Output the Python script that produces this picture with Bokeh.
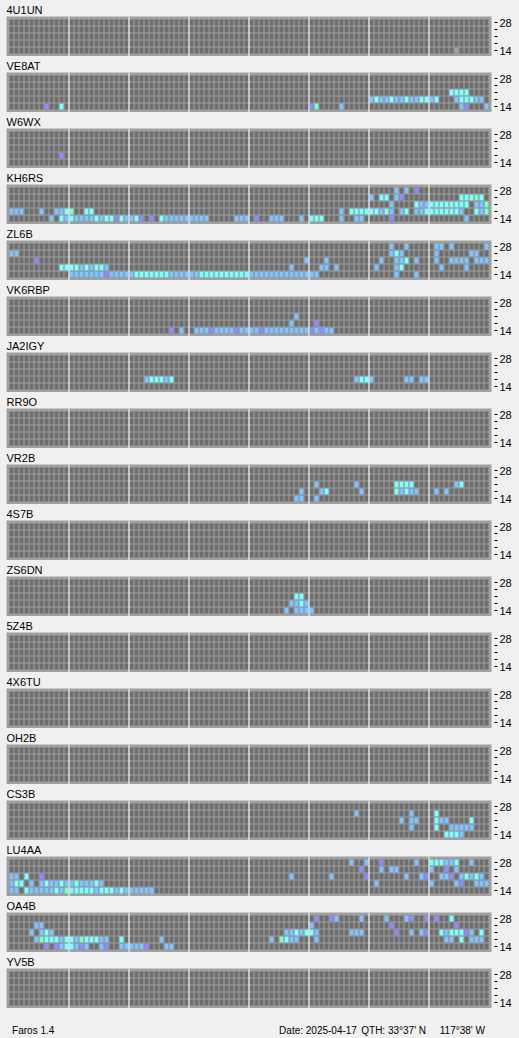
from bokeh.plotting import figure
from bokeh.models import Range1d, LinearAxis, FixedTicker, ColumnDataSource, Label
from bokeh.layouts import column
from bokeh.embed import file_html
from bokeh.resources import INLINE

# Beacon stations, top to bottom
STATIONS = ["4U1UN", "VE8AT", "W6WX", "KH6RS", "ZL6B", "VK6RBP", "JA2IGY", "RR9O",
            "VR2B", "4S7B", "ZS6DN", "5Z4B", "4X6TU", "OH2B", "CS3B", "LU4AA", "OA4B", "YV5B"]

# Bands in MHz, bottom row first
BANDS = [14, 18, 21, 24, 28]
BAND_TICK_LABELS = {14: "14", 18: "", 21: "", 24: "", 28: "28"}

SLOTS_PER_DAY = 96          # 15-minute slots
SLOTS_PER_BLOCK = 12        # 3-hour blocks

# Reception per band: "start_slot:levels" runs, one character per slot
# levels: g = heard (no SNR), p = weak, b = fair, c = good, m = strong, . = none
SIG_4U1UN = {14: "89:g"}
SIG_VE8AT = {21: "88:cccc",
             18: "72:bcbbcbbcbbccbc 89:bcccbb",
             14: "7:p 10:c 60:pm 66:b 90:bp 95:b"}
SIG_W6WX = {18: "10:p"}
SIG_KH6RS = {28: "77:b 79:b 81:p",
             24: "72:b 74:cc 77:bp 90:cccmc",
             21: "76:b 81:cbbcccccccc 93:bbm",
             18: "0:bbb 6:b 9:bbcm 15:cc 66:b 68:ccccccbcb 78:bc 81:bbcccccccb 93:cbm",
             14: "8:b 10:cbcbbbbcbccpcbbcp 28:p 30:cbbbbbbbbb 45:bbb 49:p 52:bbb 58:b 60:ccc 66:b 69:bb 76:p 91:b"}
SIG_ZL6B = {28: "76:b 79:b 85:bb 88:b 95:b",
            24: "0:bb 76:bcb 85:b 92:bb",
            21: "5:p 59:b 63:b 74:b 77:bbc 81:b 85:b 88:bbbb 93:bbb",
            18: "10:ccccbcbccb 56:b 62:bb 65:b 73:b 77:bc 86:b 91:b",
            14: "12:bbbbbbbpbbbbbcccccccbbbbbbccccccccccbbbbbbbbbbbbbb 77:b 81:b"}
SIG_VK6RBP = {21: "57:b",
              18: "56:b 61:p",
              14: "32:p 34:b 37:bbbpbbbbpbbbbpbbbbbbbbbpbbbb 62:p"}
SIG_JA2IGY = {18: "27:bcccbc 69:bccb 79:bb 82:bb"}
SIG_RR9O = {}
SIG_VR2B = {21: "61:b 69:b 77:cccc 89:bc",
            18: "58:b 62:bc 70:b 77:cbcbb 85:b 87:b",
            14: "57:bb 61:b"}
SIG_4S7B = {}
SIG_ZS6DN = {21: "57:cc",
             18: "56:bbcb",
             14: "55:b 57:bbbb"}
SIG_5Z4B = {}
SIG_4X6TU = {}
SIG_OH2B = {}
SIG_CS3B = {24: "69:b 80:b 85:c",
            21: "78:b 80:bb 85:cbb 92:c",
            18: "80:b 85:c 88:bbbb 92:b",
            14: "87:cccb"}
SIG_LU4AA = {28: "68:b 71:b 74:p 81:b 84:cccbbc 92:b",
             24: "70:p 74:b 76:bb 84:b 87:p 89:b",
             21: "0:bb 3:c 6:p 56:b 64:b 71:p 79:b 82:bp 86:bbp 90:bcbcb",
             18: "0:bcc 4:b 6:bcbbcbbcbbbcb 73:b 84:b 89:bp 93:bbb",
             14: "0:bb 3:cbbbbbcbmcccccbcccbcbbbbbb 28:b"}
SIG_OA4B = {28: "61:p 64:pb 70:b 75:b 79:bp 83:p 85:p 88:c",
            24: "5:bb 60:b 76:p 89:p",
            21: "4:b 6:bcb 55:bbcbccb 68:bbb 77:p 80:b 82:bp 86:cbcccpb 94:c",
            18: "5:bmcccbccbmcccbb 22:c 30:b 52:b 54:mcbb 61:b 87:bb 90:c 92:bbb",
            14: "7:p 9:pbccbpb 18:bp 22:bbbbbp 31:bb"}
SIG_YV5B = {}

SIGNALS = [SIG_4U1UN, SIG_VE8AT, SIG_W6WX, SIG_KH6RS, SIG_ZL6B, SIG_VK6RBP, SIG_JA2IGY,
           SIG_RR9O, SIG_VR2B, SIG_4S7B, SIG_ZS6DN, SIG_5Z4B, SIG_4X6TU, SIG_OH2B,
           SIG_CS3B, SIG_LU4AA, SIG_OA4B, SIG_YV5B]

LEVEL_COLORS = {"g": "#a0a0a0", "p": "#8c8cff", "b": "#80c4ff",
                "c": "#80ffff", "m": "#80ffc4"}

FOOTER_LEFT = "Faros 1.4"
FOOTER_DATE = "Date: 2025-04-17"
FOOTER_QTH = "QTH: 33\u00b037' N"
FOOTER_LON = "117\u00b038' W"

PAGE_BG = "#f0f0f0"
FRAME_GRAY = "#a0a0a0"
EMPTY_CELL = "#6e6e6e"
FONT = "Liberation Sans"

CELL_W = 0.8            # of one slot
CELL_H = 6 / 7          # of one band row
Y_LO, Y_HI = -6 / 7, 34 / 7
X_LO, X_HI = -0.6, SLOTS_PER_DAY + 0.4


def parse(sig):
    xs, ys, cols = [], [], []
    for band, text in sig.items():
        row = BANDS.index(band)
        for token in text.split():
            start, levels = token.split(":")
            for k, ch in enumerate(levels):
                if ch == ".":
                    continue
                xs.append(int(start) + k)
                ys.append(row)
                cols.append(LEVEL_COLORS[ch])
    return xs, ys, cols


def make_panel(name, sig):
    p = figure(width=519, height=56,
               x_range=Range1d(X_LO, X_HI), y_range=Range1d(Y_LO, Y_HI),
               output_backend="svg", toolbar_location=None,
               x_axis_location=None, y_axis_location=None,
               min_border_left=6, min_border_right=28,
               min_border_top=16, min_border_bottom=0)
    p.background_fill_color = FRAME_GRAY
    p.border_fill_color = PAGE_BG
    p.outline_line_color = None
    p.grid.grid_line_color = None

    p.title.text = name
    p.title.text_font = FONT
    p.title.text_font_size = "11px"
    p.title.text_font_style = "normal"
    p.title.text_color = "black"
    p.title.align = "left"
    p.title.offset = 0
    p.title.standoff = 1

    # empty slot grid
    gx = [s for s in range(SLOTS_PER_DAY) for _ in BANDS]
    gy = [r for _ in range(SLOTS_PER_DAY) for r in range(len(BANDS))]
    grid = ColumnDataSource(dict(left=gx, right=[x + CELL_W for x in gx],
                                 bottom=[y - CELL_H / 2 for y in gy],
                                 top=[y + CELL_H / 2 for y in gy]))
    p.quad(left="left", right="right", bottom="bottom", top="top", source=grid,
           fill_color=EMPTY_CELL, line_color=None)

    # received slots
    xs, ys, cols = parse(sig)
    if xs:
        src = ColumnDataSource(dict(left=xs, right=[x + CELL_W for x in xs],
                                    bottom=[y - CELL_H / 2 for y in ys],
                                    top=[y + CELL_H / 2 for y in ys], color=cols))
        p.quad(left="left", right="right", bottom="bottom", top="top", source=src,
               fill_color="color", line_color=None)

    # 3-hour separators
    seps = list(range(SLOTS_PER_BLOCK, SLOTS_PER_DAY, SLOTS_PER_BLOCK))
    p.quad(left=[s - (1 - CELL_W) for s in seps], right=seps,
           bottom=Y_LO, top=Y_HI, fill_color="white", line_color=None)

    # band axis
    ax = LinearAxis(ticker=FixedTicker(ticks=list(range(len(BANDS)))))
    ax.major_label_overrides = {i: BAND_TICK_LABELS[b] for i, b in enumerate(BANDS)}
    ax.axis_line_color = None
    ax.minor_tick_line_color = None
    ax.major_tick_in = -3
    ax.major_tick_out = 6
    ax.major_tick_line_color = "black"
    ax.major_label_standoff = 2
    ax.major_label_text_font = FONT
    ax.major_label_text_font_size = "11px"
    ax.major_label_text_color = "black"
    p.add_layout(ax, "right")
    return p


def make_footer():
    f = figure(width=519, height=30, x_range=Range1d(0, 519), y_range=Range1d(0, 30),
               output_backend="svg", toolbar_location=None,
               x_axis_location=None, y_axis_location=None,
               min_border_left=0, min_border_right=0,
               min_border_top=0, min_border_bottom=0)
    f.background_fill_color = PAGE_BG
    f.border_fill_color = PAGE_BG
    f.outline_line_color = None
    f.grid.grid_line_color = None
    for txt, x, align in [(FOOTER_LEFT, 6, "left"), (FOOTER_DATE, 375, "right"),
                          (FOOTER_QTH, 449, "right"), (FOOTER_LON, 512, "right")]:
        f.add_layout(Label(x=x, y=8, text=txt, text_align=align,
                           text_baseline="alphabetic", text_font=FONT,
                           text_font_size="10px", text_color="black"))
    return f


panels = [make_panel(n, s) for n, s in zip(STATIONS, SIGNALS)]
page = column(*panels, make_footer(), spacing=0, background=PAGE_BG)

open("out.html", "w").write(file_html(page, INLINE))
